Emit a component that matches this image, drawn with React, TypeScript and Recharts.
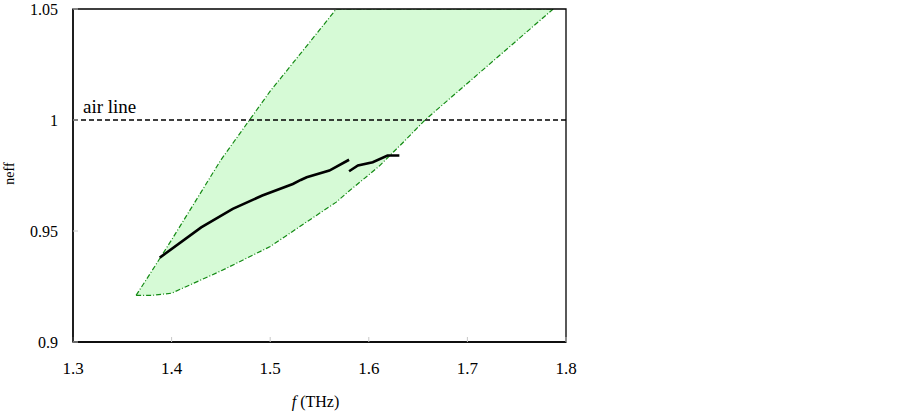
import React from 'react';
import { ComposedChart, Area, Line, XAxis, YAxis, ReferenceLine, ReferenceArea } from 'recharts';

// Shaded band (light-cone region)
const bandF = [1.364, 1.38, 1.4, 1.45, 1.5, 1.54, 1.567, 1.58, 1.61, 1.635, 1.657, 1.787];
const bandLow = [0.921, 0.921, 0.922, 0.932, 0.943, 0.955, 0.963, 0.968, 0.979, 0.99, 1.0, 1.05];
const bandHigh = [0.921, 0.932, 0.946, 0.982, 1.013, 1.035, 1.05, 1.05, 1.05, 1.05, 1.05, 1.05];

// Measured neff curve, two branches
const curve1F = [1.388, 1.43, 1.462, 1.492, 1.523, 1.531, 1.537, 1.56, 1.58];
const curve1N = [0.938, 0.9516, 0.96, 0.966, 0.9712, 0.973, 0.9742, 0.9772, 0.9821];
const curve2F = [1.58, 1.589, 1.604, 1.619, 1.631];
const curve2N = [0.9769, 0.9795, 0.981, 0.984, 0.984];

const xTicks = [1.3, 1.4, 1.5, 1.6, 1.7, 1.8];
const yTicks = [0.9, 0.95, 1, 1.05];
const airLineValue = 1;

const bandData = bandF.map((f, i) => ({ f, range: [bandLow[i], bandHigh[i]] }));
const curve1 = curve1F.map((f, i) => ({ f, n: curve1N[i] }));
const curve2 = curve2F.map((f, i) => ({ f, n: curve2N[i] }));

const FONT = '"Liberation Serif", "Times New Roman", serif';

export default function App() {
  return (
    <div style={{ position: 'absolute', left: 0, top: 0 }}>
      <ComposedChart width={900} height={412} margin={{ top: 9, right: 334, bottom: 0, left: 0 }}>
        <XAxis
          dataKey="f"
          type="number"
          domain={[1.3, 1.8]}
          ticks={xTicks}
          allowDataOverflow
          height={70}
          tickSize={-5}
          tickMargin={25}
          tickLine={{ stroke: '#c8c8c8' }}
          axisLine={{ stroke: '#000', strokeWidth: 1.3 }}
          tick={{ fill: '#000', fontSize: 17, fontFamily: FONT }}
          label={({ viewBox }: any) => (
            <text x={viewBox.x + viewBox.width / 2 - 4} y={407} textAnchor="middle" fill="#000" fontSize={16} fontFamily={FONT}>
              <tspan fontStyle="italic">f</tspan> (THz)
            </text>
          )}
        />
        <YAxis
          type="number"
          domain={[0.9, 1.05]}
          ticks={yTicks}
          allowDataOverflow
          width={73}
          tickSize={-5}
          tickMargin={20}
          tickLine={{ stroke: '#c8c8c8' }}
          axisLine={{ stroke: '#000', strokeWidth: 1.3 }}
          tick={{ fill: '#000', fontSize: 16, fontFamily: FONT }}
          label={({ viewBox }: any) => (
            <text
              x={14}
              y={viewBox.y + viewBox.height / 2 - 2}
              textAnchor="middle"
              fill="#000"
              fontSize={14}
              fontFamily={FONT}
              transform={`rotate(-90, 14, ${viewBox.y + viewBox.height / 2 - 2})`}
            >
              neff
            </text>
          )}
        />
        <Area
          data={bandData}
          dataKey="range"
          type="linear"
          fill="#d6fad6"
          fillOpacity={1}
          stroke="#148a14"
          strokeWidth={1.2}
          strokeDasharray="5 2 1 2"
          isAnimationActive={false}
          dot={false}
          activeDot={false}
        />
        <ReferenceLine
          y={airLineValue}
          stroke="#000"
          strokeWidth={1.3}
          strokeDasharray="5 3"
          label={({ viewBox }: any) => (
            <text x={viewBox.x + 10} y={viewBox.y - 7} fill="#000" fontSize={19} fontFamily={FONT}>
              air line
            </text>
          )}
        />
        <Line data={curve1} dataKey="n" type="linear" stroke="#000" strokeWidth={2.6} dot={false} activeDot={false} isAnimationActive={false} />
        <Line data={curve2} dataKey="n" type="linear" stroke="#000" strokeWidth={2.6} dot={false} activeDot={false} isAnimationActive={false} />
        <ReferenceArea x1={1.3} x2={1.8} y1={0.9} y2={1.05} fill="none" stroke="#000" strokeWidth={1.3} ifOverflow="visible" />
      </ComposedChart>
    </div>
  );
}
